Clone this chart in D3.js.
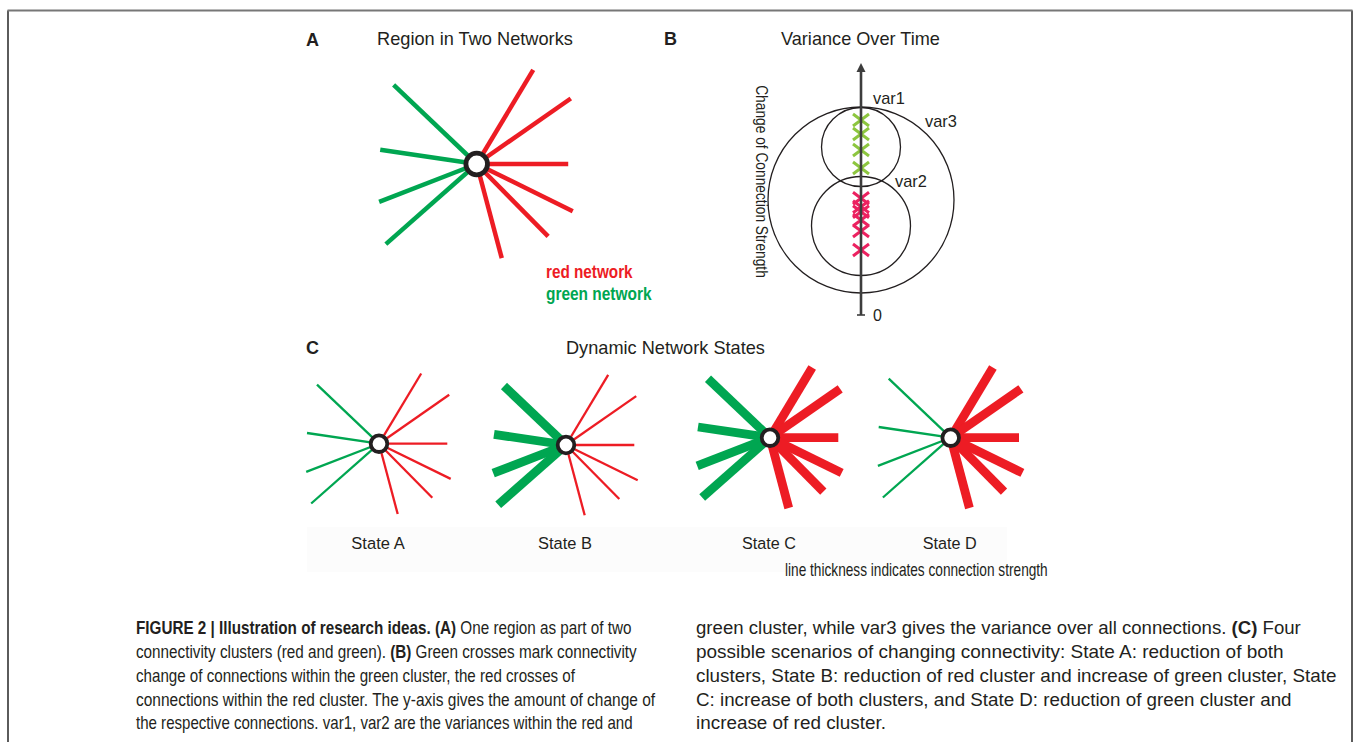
<!DOCTYPE html>
<html><head><meta charset="utf-8">
<script src="https://cdn.jsdelivr.net/npm/d3@7"></script>
<style>html,body{margin:0;padding:0;background:#fff;overflow:hidden}svg{display:block}</style>
</head><body>
<svg id="chart" width="1355" height="742"></svg>
<script>
// ---------------- data ----------------
const spokeCluster = ["green","green","green","green","red","red","red","red","red","red"];
const spokeDX = [-62, -72, -72.8, -67.8, 42.2, 70.2, 68.3, 71.7, 53.3, 18.7];
const spokeDY = [-59, -10.7, 28.2, 59.8, -70.2, -48.9, 0, 35.2, 54, 70.3];
const states = ["State A", "State B", "State C", "State D"];
const stateGreenStrength = [1, 2, 2, 1];
const stateRedStrength = [1, 1, 2, 2];
const greenChanges = [78, 72.4, 66, 58.8];
const redChanges = [46.7, 43.3, 41.3, 38, 33.6, 26];
const varNames = ["var1", "var2", "var3"];
const varCenters = [67.2, 35.6, 46];
const varRadii = [15.8, 19.8, 37.2];
const axisTicks = [0];
const legendLabels = ["red network", "green network"];
const panelTitles = ["Region in Two Networks", "Variance Over Time", "Dynamic Network States"];
const panelLetters = ["A", "B", "C"];
const yAxisLabel = "Change of Connection Strength";
const thicknessNote = "line thickness indicates connection strength";
const captionLeft = [
  "**FIGURE 2 | Illustration of research ideas. (A)** One region as part of two",
  "connectivity clusters (red and green). **(B)** Green crosses mark connectivity",
  "change of connections within the green cluster, the red crosses of",
  "connections within the red cluster. The y-axis gives the amount of change of",
  "the respective connections. var1, var2 are the variances within the red and"
];
const captionRight = [
  "green cluster, while var3 gives the variance over all connections. **(C)** Four",
  "possible scenarios of changing connectivity: State A: reduction of both",
  "clusters, State B: reduction of red cluster and increase of green cluster, State",
  "C: increase of both clusters, and State D: reduction of green cluster and",
  "increase of red cluster."
];

// ---------------- layout / style ----------------
const RED = "#ED1C24", GREEN = "#00A651", NODE = "#231F20";
const XRED = "#EC2160", XGREEN = "#8DC63F";
const SANS = "'Liberation Sans', Arial, Helvetica, sans-serif";
const NARROW = "'Liberation Sans Narrow', 'Liberation Sans', Arial, sans-serif";
const captionLeftW = [496, 502, 440, 520, 497];
const captionRightW = [605, 588, 641, 596, 190];

const svg = d3.select("#chart");

function fitText(g, x, y, width, extra) {
  const bb = g.node().getBBox();
  const s = bb.width > 0 ? width / bb.width : 1;
  g.attr("transform", `translate(${x},${y}) ${extra || ""} scale(${s},1)`);
}
function addText(x, y, str, opts) {
  const g = svg.append("g").attr("transform", `translate(${x},${y}) ${opts.extra || ""}`);
  const t = g.append("text")
    .attr("font-family", opts.family || SANS)
    .attr("font-size", opts.size)
    .attr("font-weight", opts.weight || "normal")
    .attr("fill", opts.fill || "#231F20")
    .attr("text-anchor", opts.anchor || "start");
  const parts = str.split("**");
  parts.forEach((p, i) => {
    if (!p) return;
    t.append("tspan").attr("font-weight", i % 2 === 1 ? "bold" : (opts.weight || "normal")).text(p);
  });
  if (opts.width) fitText(g, x, y, opts.width, opts.extra);
  return g;
}

// frame
svg.append("path").attr("d", "M8,742 V10.5").attr("stroke", "#333").attr("stroke-width", 1.6).attr("fill", "none");
svg.append("path").attr("d", "M1352,742 V10.5").attr("stroke", "#333").attr("stroke-width", 1.6).attr("fill", "none");
svg.append("path").attr("d", "M7.5,10.5 H1352.5").attr("stroke", "#777").attr("stroke-width", 2).attr("fill", "none");

// faint band behind state labels
svg.append("rect").attr("x", 307).attr("y", 527).attr("width", 700).attr("height", 45).attr("fill", "#fcfcfc");

// ---------------- star network drawing ----------------
function drawStar(cx, cy, k, gW, rW, nodeR, nodeW) {
  const xs = d3.scaleLinear().domain([-100, 100]).range([cx - 100 * k, cx + 100 * k]);
  const ys = d3.scaleLinear().domain([-100, 100]).range([cy - 100 * k, cy + 100 * k]);
  const g = svg.append("g");
  const idx = d3.range(spokeDX.length);
  g.selectAll("line").data(idx).join("line")
    .attr("x1", xs(0)).attr("y1", ys(0))
    .attr("x2", i => xs(spokeDX[i])).attr("y2", i => ys(spokeDY[i]))
    .attr("stroke", i => spokeCluster[i] === "red" ? RED : GREEN)
    .attr("stroke-width", i => spokeCluster[i] === "red" ? rW : gW)
    .attr("stroke-linecap", "butt");
  g.append("circle").attr("cx", xs(0)).attr("cy", ys(0)).attr("r", nodeR)
    .attr("fill", "#fff").attr("stroke", NODE).attr("stroke-width", nodeW);
}

// Panel A
addText(306, 46, panelLetters[0], {size: 18, weight: "bold"});
addText(377, 45, panelTitles[0], {size: 18, width: 196});
drawStar(476.7, 164, 1.34, 4.5, 4.5, 10.8, 4.8);
addText(546, 278, legendLabels[0], {size: 19, weight: "bold", fill: RED, family: NARROW, width: 87});
addText(546, 300, legendLabels[1], {size: 19, weight: "bold", fill: GREEN, family: NARROW, width: 106});

// Panel B
addText(664, 45, panelLetters[1], {size: 18, weight: "bold"});
addText(781, 45, panelTitles[1], {size: 18, width: 159});
const axX = 861;
const yB = d3.scaleLinear().domain([0, 100]).range([315, 65]);
const rB = d3.scaleLinear().domain([0, 100]).range([0, 250]);
const gB = svg.append("g");
gB.selectAll("circle.var").data(varNames).join("circle").attr("class", "var")
  .attr("cx", axX).attr("cy", (d, i) => yB(varCenters[i])).attr("r", (d, i) => rB(varRadii[i]))
  .attr("fill", "none").attr("stroke", "#231F20").attr("stroke-width", 1.3);
function crosses(vals, color) {
  gB.append("g").selectAll("path").data(vals).join("path")
    .attr("transform", v => `translate(${axX},${yB(v)})`)
    .attr("d", "M-8,-6L8,6M-8,6L8,-6")
    .attr("stroke", color).attr("stroke-width", 3).attr("fill", "none");
}
crosses(greenChanges, XGREEN);
crosses(redChanges, XRED);
// axis
gB.append("line").attr("x1", axX).attr("x2", axX).attr("y1", yB(0)).attr("y2", yB(100) + 4)
  .attr("stroke", "#3d3d3d").attr("stroke-width", 2.6);
gB.append("path").attr("d", `M${axX},${yB(100) - 2} L${axX - 4.5},${yB(100) + 7} L${axX + 4.5},${yB(100) + 7} Z`)
  .attr("fill", "#3d3d3d");
gB.selectAll("line.tick").data(axisTicks).join("line").attr("class", "tick")
  .attr("x1", axX - 4).attr("x2", axX + 4).attr("y1", d => yB(d)).attr("y2", d => yB(d))
  .attr("stroke", "#3d3d3d").attr("stroke-width", 1.6);
axisTicks.forEach(t => addText(873, yB(t) + 6, String(t), {size: 16}));
addText(873, 104, varNames[0], {size: 16, width: 32});
addText(895, 187, varNames[1], {size: 16, width: 32});
addText(925, 127, varNames[2], {size: 16, width: 32});
addText(756, 181.5, yAxisLabel, {size: 16, anchor: "middle", extra: "rotate(90)", width: 193});

// Panel C
addText(306, 354, panelLetters[2], {size: 18, weight: "bold"});
addText(566, 354, panelTitles[2], {size: 18, width: 199});
const stateCX = [379, 566, 770, 950.7];
const stateCY = [443.7, 445, 437.7, 437.7];
const wScale = d3.scaleLinear().domain([1, 2]).range([2.3, 8.8]);
states.forEach((s, i) => {
  drawStar(stateCX[i], stateCY[i], 1, wScale(stateGreenStrength[i]), wScale(stateRedStrength[i]), 8.3, 3.8);
  addText(stateCX[i] - 1, 549, s, {size: 17, anchor: "middle", width: 54});
});
addText(785, 576, thicknessNote, {size: 17.5, width: 263});

// Caption
const capY = [634, 658, 682, 705.5, 729];
captionLeft.forEach((l, i) => addText(136, capY[i], l, {size: 18.5, family: NARROW, width: captionLeftW[i]}));
captionRight.forEach((l, i) => addText(696, capY[i], l, {size: 18.5, family: NARROW, width: captionRightW[i]}));
</script>
</body></html>
